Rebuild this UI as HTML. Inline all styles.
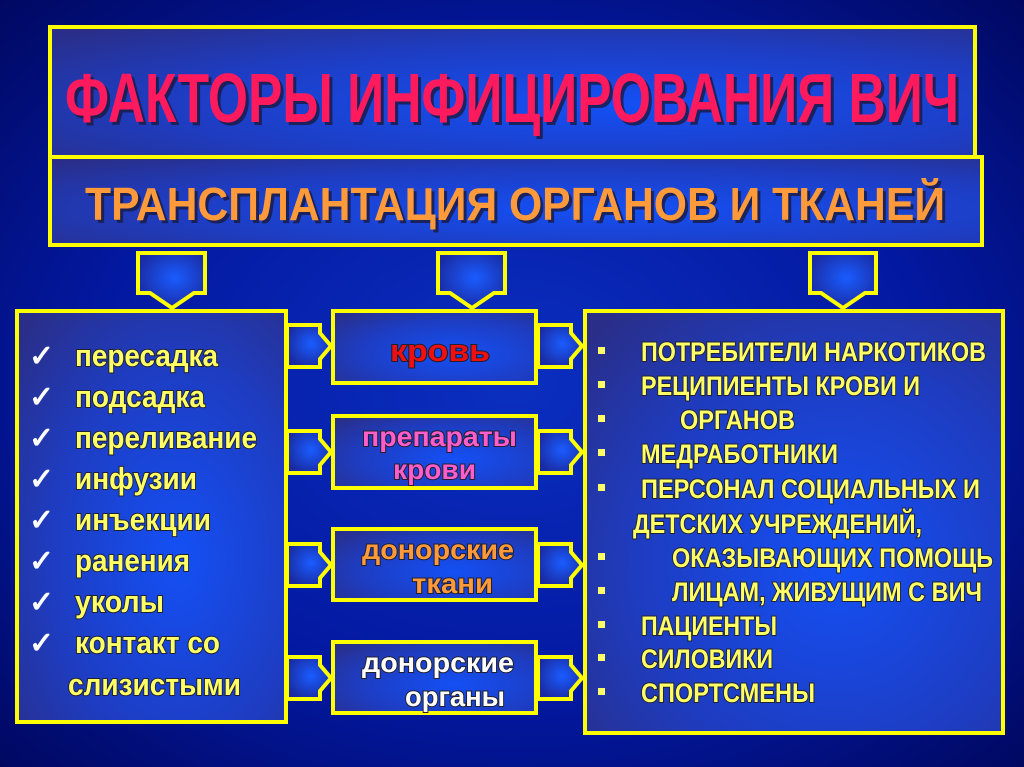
<!DOCTYPE html>
<html><head><meta charset="utf-8"><style>
html,body{margin:0;padding:0;background:#000a5a;}
svg{display:block}
text{font-family:"Liberation Sans",sans-serif;font-weight:bold;}
</style></head><body>
<svg width="1024" height="767" viewBox="0 0 1024 767" xmlns="http://www.w3.org/2000/svg">
<defs>
<radialGradient id="bg" cx="0.5" cy="0.5" r="0.75">
<stop offset="0" stop-color="#0b2fc0"/><stop offset="0.55" stop-color="#0318a0"/><stop offset="1" stop-color="#000658"/>
</radialGradient>
<radialGradient id="bx" cx="0.6" cy="0.6" r="0.8">
<stop offset="0" stop-color="#1450f5"/><stop offset="0.6" stop-color="#1e3cc0"/><stop offset="1" stop-color="#2a2e88"/>
</radialGradient>
<radialGradient id="ar" cx="0.55" cy="0.45" r="0.6">
<stop offset="0" stop-color="#1a5cff"/><stop offset="1" stop-color="#1a2aa0"/>
</radialGradient>
</defs>
<rect width="1024" height="767" fill="url(#bg)"/>
<g stroke="#ffff00" stroke-width="4" fill="url(#bx)">
<rect x="50" y="27" width="925" height="130"/>
<rect x="50" y="157" width="932" height="88"/>
<rect x="17" y="311" width="269" height="411"/>
<rect x="333" y="311" width="203" height="72"/>
<rect x="333" y="416" width="203" height="72"/>
<rect x="333" y="529" width="203" height="71"/>
<rect x="333" y="642" width="203" height="71"/>
<rect x="585" y="311" width="418" height="422"/>
</g>
<g stroke="#ffff00" stroke-width="4" fill="url(#ar)" stroke-linejoin="miter">
<polygon points="138,253 205,253 205,293 194,293 172,308 150,293 138,293"/>
<polygon points="438,253 505,253 505,293 494,293 472,308 450,293 438,293"/>
<polygon points="810,253 876,253 876,293 865,293 843,308 821,293 810,293"/>
<g id="c1">
<polygon points="287,325 320,325 320,333 331,346 320,359 320,367 287,367"/>
<polygon points="538,325 571,325 571,333 582,346 571,359 571,367 538,367"/>
</g>
<use href="#c1" y="106"/>
<use href="#c1" y="219"/>
<use href="#c1" y="332"/>
</g>
<g fill="#1a1a40" opacity="0.8">
<text x="68" y="125" font-size="70" textLength="894" lengthAdjust="spacingAndGlyphs">ФАКТОРЫ ИНФИЦИРОВАНИЯ ВИЧ</text>
<text x="88" y="223" font-size="46" textLength="860" lengthAdjust="spacingAndGlyphs">ТРАНСПЛАНТАЦИЯ ОРГАНОВ И ТКАНЕЙ</text>
</g>
<text x="65" y="122" font-size="70" fill="#ff1a5e" textLength="894" lengthAdjust="spacingAndGlyphs">ФАКТОРЫ ИНФИЦИРОВАНИЯ ВИЧ</text>
<text x="85" y="220" font-size="46" fill="#ff9a3a" textLength="860" lengthAdjust="spacingAndGlyphs">ТРАНСПЛАНТАЦИЯ ОРГАНОВ И ТКАНЕЙ</text>

<g style="paint-order:stroke">
<g fill="#ffffff" font-size="30" font-weight="normal" font-family="DejaVu Sans, sans-serif">
<text x="29" y="366">✓</text><text x="29" y="407">✓</text><text x="29" y="448">✓</text><text x="29" y="489">✓</text>
<text x="29" y="530">✓</text><text x="29" y="571">✓</text><text x="29" y="612">✓</text><text x="29" y="653">✓</text>
</g>
<g fill="#ffff66" stroke="#202030" stroke-width="2" font-size="31">
<text x="75" y="366" textLength="143" lengthAdjust="spacingAndGlyphs">пересадка</text>
<text x="75" y="407" textLength="130" lengthAdjust="spacingAndGlyphs">подсадка</text>
<text x="75" y="448" textLength="182" lengthAdjust="spacingAndGlyphs">переливание</text>
<text x="75" y="489" textLength="122" lengthAdjust="spacingAndGlyphs">инфузии</text>
<text x="75" y="530" textLength="136" lengthAdjust="spacingAndGlyphs">инъекции</text>
<text x="75" y="571" textLength="115" lengthAdjust="spacingAndGlyphs">ранения</text>
<text x="75" y="612" textLength="89" lengthAdjust="spacingAndGlyphs">уколы</text>
<text x="75" y="653" textLength="145" lengthAdjust="spacingAndGlyphs">контакт со</text>
<text x="68" y="695" textLength="173" lengthAdjust="spacingAndGlyphs">слизистыми</text>
</g>
<g font-size="28" stroke="#202030" stroke-width="2">
<text x="390" y="361" fill="#ee1010" font-size="31" textLength="100" lengthAdjust="spacingAndGlyphs">кровь</text>
<text x="362" y="446" fill="#ff5ccc" textLength="155" lengthAdjust="spacingAndGlyphs">препараты</text>
<text x="393" y="479" fill="#ff5ccc" textLength="83" lengthAdjust="spacingAndGlyphs">крови</text>
<text x="362" y="559" fill="#ff9a3a" textLength="152" lengthAdjust="spacingAndGlyphs">донорские</text>
<text x="412" y="593" fill="#ff9a3a" textLength="81" lengthAdjust="spacingAndGlyphs">ткани</text>
<text x="362" y="672" fill="#ffffff" textLength="152" lengthAdjust="spacingAndGlyphs">донорские</text>
<text x="405" y="706" fill="#ffffff" textLength="100" lengthAdjust="spacingAndGlyphs">органы</text>
</g>
</g>
<g fill="#ffff66">
<rect x="598" y="347" width="7" height="7"/><rect x="598" y="381" width="7" height="7"/><rect x="598" y="415" width="7" height="7"/>
<rect x="598" y="449" width="7" height="7"/><rect x="598" y="484" width="7" height="7"/><rect x="598" y="553" width="7" height="7"/>
<rect x="598" y="587" width="7" height="7"/><rect x="598" y="621" width="7" height="7"/><rect x="598" y="654" width="7" height="7"/>
<rect x="598" y="688" width="7" height="7"/>
</g>
<g font-size="27" fill="#ffff66" stroke="#202030" stroke-width="2" style="paint-order:stroke">
<text x="641" y="361" textLength="345" lengthAdjust="spacingAndGlyphs">ПОТРЕБИТЕЛИ НАРКОТИКОВ</text>
<text x="641" y="395" textLength="279" lengthAdjust="spacingAndGlyphs">РЕЦИПИЕНТЫ КРОВИ И</text>
<text x="680" y="429" textLength="115" lengthAdjust="spacingAndGlyphs">ОРГАНОВ</text>
<text x="641" y="463" textLength="197" lengthAdjust="spacingAndGlyphs">МЕДРАБОТНИКИ</text>
<text x="641" y="498" textLength="339" lengthAdjust="spacingAndGlyphs">ПЕРСОНАЛ СОЦИАЛЬНЫХ И</text>
<text x="633" y="533" textLength="289" lengthAdjust="spacingAndGlyphs">ДЕТСКИХ УЧРЕЖДЕНИЙ,</text>
<text x="672" y="567" textLength="321" lengthAdjust="spacingAndGlyphs">ОКАЗЫВАЮЩИХ ПОМОЩЬ</text>
<text x="672" y="601" textLength="310" lengthAdjust="spacingAndGlyphs">ЛИЦАМ, ЖИВУЩИМ С ВИЧ</text>
<text x="641" y="635" textLength="136" lengthAdjust="spacingAndGlyphs">ПАЦИЕНТЫ</text>
<text x="641" y="668" textLength="132" lengthAdjust="spacingAndGlyphs">СИЛОВИКИ</text>
<text x="641" y="702" textLength="174" lengthAdjust="spacingAndGlyphs">СПОРТСМЕНЫ</text>
</g>
</svg>
</body></html>
